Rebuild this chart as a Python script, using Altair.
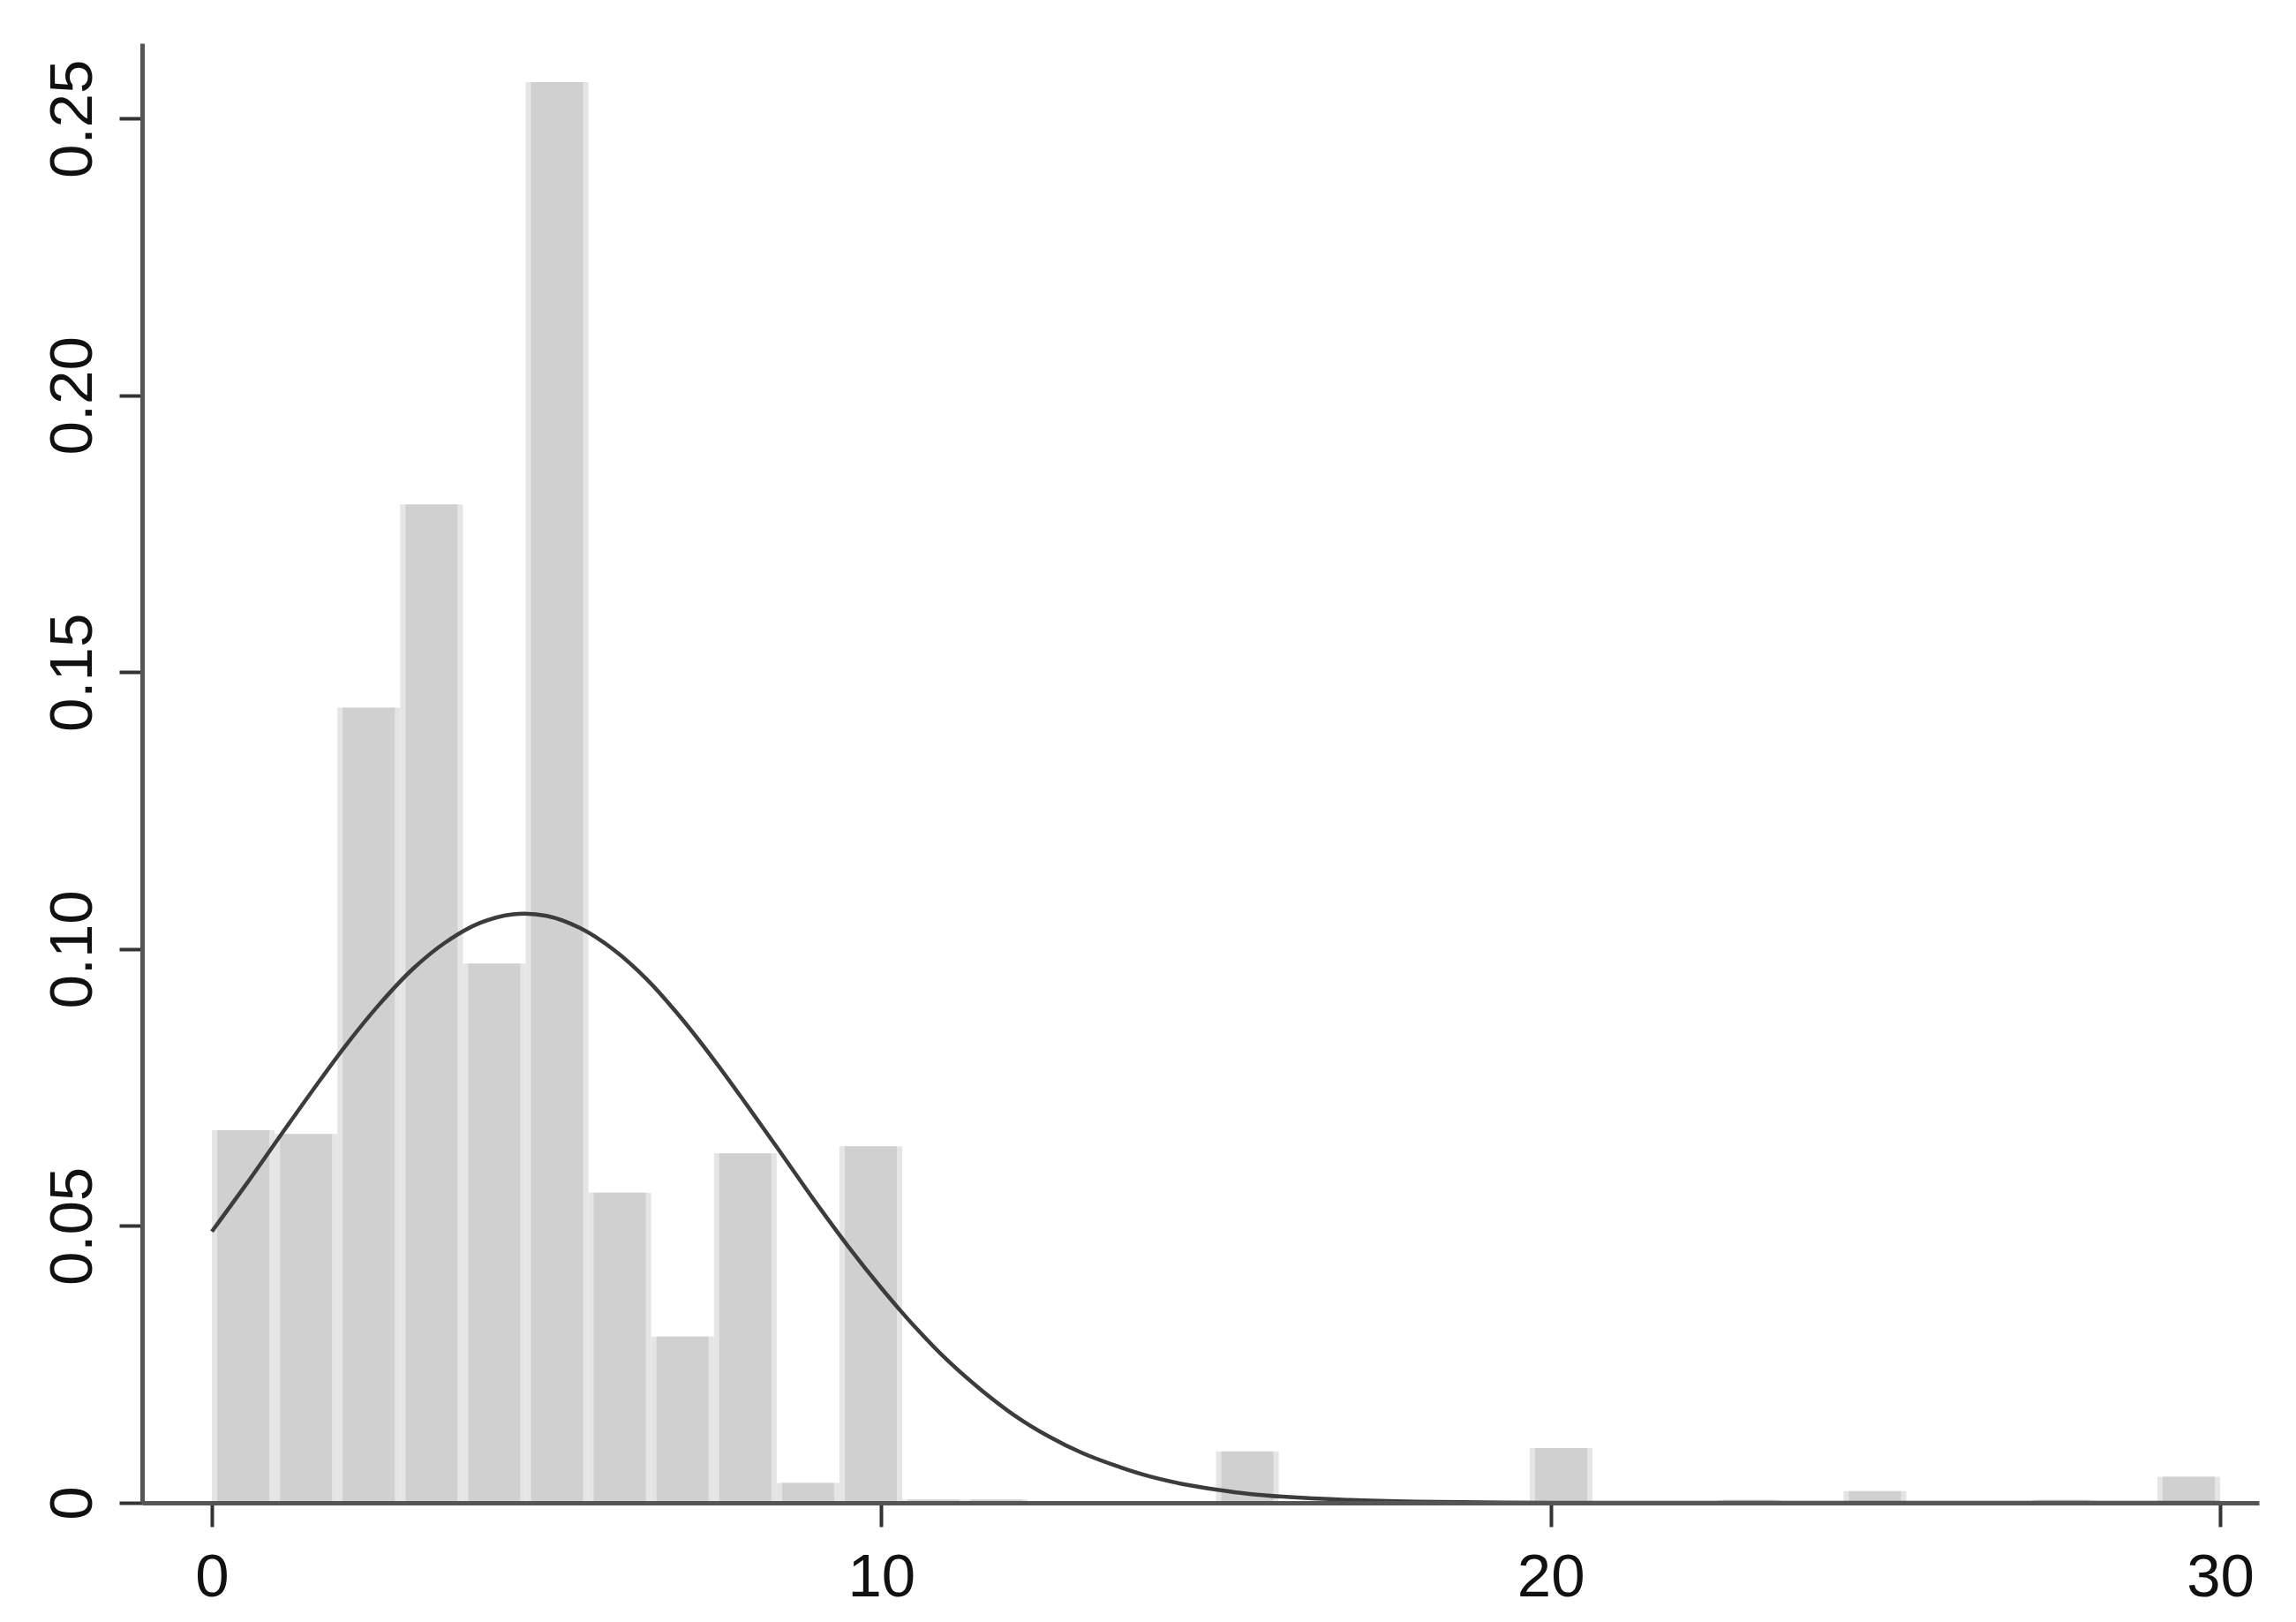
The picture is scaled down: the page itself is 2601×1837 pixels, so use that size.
import altair as alt
import pandas as pd

# Histogram: 32 bins of width 0.9375 starting at 0 (density scale)
bin_width = 0.9375
density = [
    0.0673, 0.0666, 0.1436, 0.1803, 0.0974, 0.2566, 0.0560, 0.0300,
    0.0631, 0.0036, 0.0644, 0.0006, 0.0006, 0.0, 0.0, 0.0,
    0.0093, 0.0, 0.0, 0.0, 0.0, 0.0099, 0.0, 0.0,
    0.0005, 0.0, 0.0021, 0.0, 0.0, 0.0005, 0.0, 0.0047,
]

# Overlaid normal-density curve
curve_x = [0, 0.5, 1, 1.5, 2, 2.5, 3, 3.5, 4, 4.5, 5, 5.5, 6, 6.5, 7, 7.5,
           8, 8.5, 9, 9.5, 10, 10.5, 11, 11.5, 12, 12.5, 13, 13.5, 14, 14.5,
           15, 15.5, 16, 17, 18, 19, 20, 22, 25, 30]
curve_y = [0.0490, 0.0573, 0.0659, 0.0744, 0.0826, 0.0900, 0.0964, 0.1013,
           0.1047, 0.1063, 0.1060, 0.1038, 0.0999, 0.0945, 0.0877, 0.0800,
           0.0717, 0.0632, 0.0546, 0.0464, 0.0388, 0.0318, 0.0256, 0.0203,
           0.0157, 0.0120, 0.0090, 0.0067, 0.0048, 0.0034, 0.0024, 0.0016,
           0.0011, 0.0005, 0.0002, 0.00007, 0.00002, 0.0, 0.0, 0.0]

x_ticks = [0, 10, 20, 30]
y_ticks = [0, 0.05, 0.10, 0.15, 0.20, 0.25]

bars = pd.DataFrame({"start": [i * bin_width for i in range(len(density))],
                     "density": density})
bars["end"] = bars["start"] + bin_width
bars = bars[bars["density"] > 0].copy()
inset = 0.08
bars["in_start"] = bars["start"] + inset
bars["in_end"] = bars["end"] - inset

curve = pd.DataFrame({"x": curve_x, "y": curve_y})

x_scale = alt.Scale(domain=[-1.042, 30.58], nice=False, zero=False)
y_scale = alt.Scale(domain=[0, 0.2636], nice=False, zero=False)

FONT = "Liberation Sans"

x_axis = alt.Axis(values=x_ticks, format="d", title=None, grid=False,
                  domainColor="#555555", domainWidth=5,
                  tickColor="#333333", tickWidth=4, tickSize=27,
                  labelFont=FONT, labelFontSize=69, labelColor="#111111",
                  labelPadding=23, labelBaseline="top", labelAlign="center",
                  labelFlush=False, labelOverlap=False, zindex=2)
y_axis = alt.Axis(values=y_ticks, title=None, grid=False,
                  labelExpr="datum.value == 0 ? '0' : format(datum.value, '.2f')",
                  domainColor="#555555", domainWidth=5,
                  tickColor="#333333", tickWidth=4, tickSize=26,
                  labelFont=FONT, labelFontSize=69, labelColor="#111111",
                  labelAngle=270, labelAlign="center", labelBaseline="alphabetic",
                  labelPadding=32, labelFlush=False, labelOverlap=False, zindex=2)

light = alt.Chart(bars).mark_rect(color="#e5e5e5").encode(
    x=alt.X("start:Q", scale=x_scale, axis=x_axis),
    x2="end:Q",
    y=alt.Y("density:Q", scale=y_scale, axis=y_axis),
    y2=alt.datum(0),
)

dark = alt.Chart(bars).mark_rect(color="#d0d0d0").encode(
    x=alt.X("in_start:Q", scale=x_scale),
    x2="in_end:Q",
    y=alt.Y("density:Q", scale=y_scale),
    y2=alt.datum(0),
)

line = alt.Chart(curve).mark_line(color="#3c3c3c", strokeWidth=4.5,
                                  interpolate="catmull-rom").encode(
    x=alt.X("x:Q", scale=x_scale),
    y=alt.Y("y:Q", scale=y_scale),
)

chart = alt.layer(light, dark, line).properties(
    width=2398, height=1653,
    autosize=alt.AutoSizeParams(type="none"),
    padding={"left": 153, "top": 41, "right": 30, "bottom": 127},
    background="white",
).configure_view(stroke=None)

chart.save("out.html", embed_options={"renderer": "svg", "actions": False})
